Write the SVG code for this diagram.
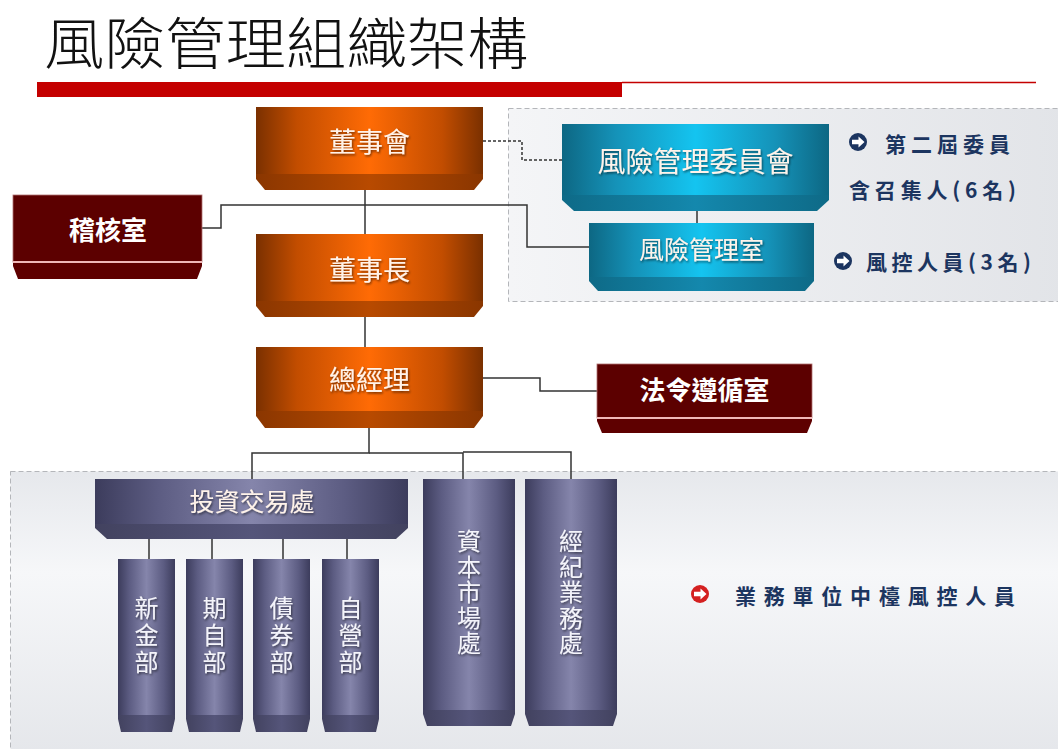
<svg xmlns="http://www.w3.org/2000/svg" width="1058" height="749" viewBox="0 0 1058 749">
<defs>
<linearGradient id="gOr" x1="0" y1="0" x2="1" y2="0">
<stop offset="0" stop-color="#7a3000"/><stop offset="0.18" stop-color="#c24d00"/><stop offset="0.5" stop-color="#ff6b05"/><stop offset="0.82" stop-color="#c24d00"/><stop offset="1" stop-color="#7a3000"/>
</linearGradient>
<linearGradient id="gOrB" x1="0" y1="0" x2="1" y2="0">
<stop offset="0" stop-color="#8a3600"/><stop offset="0.5" stop-color="#b84a00"/><stop offset="1" stop-color="#8a3600"/>
</linearGradient>
<linearGradient id="gTe" x1="0" y1="0" x2="1" y2="0">
<stop offset="0" stop-color="#0d6783"/><stop offset="0.2" stop-color="#1592b8"/><stop offset="0.5" stop-color="#14c4f0"/><stop offset="0.8" stop-color="#1592b8"/><stop offset="1" stop-color="#0d6783"/>
</linearGradient>
<linearGradient id="gTeB" x1="0" y1="0" x2="1" y2="0">
<stop offset="0" stop-color="#0e6a87"/><stop offset="0.5" stop-color="#1488ad"/><stop offset="1" stop-color="#0e6a87"/>
</linearGradient>
<linearGradient id="gPu" x1="0" y1="0" x2="1" y2="0">
<stop offset="0" stop-color="#3c3c5c"/><stop offset="0.2" stop-color="#5c5c82"/><stop offset="0.5" stop-color="#8585ab"/><stop offset="0.8" stop-color="#5c5c82"/><stop offset="1" stop-color="#3c3c5c"/>
</linearGradient>
<linearGradient id="gPuB" x1="0" y1="0" x2="1" y2="0">
<stop offset="0" stop-color="#42425f"/><stop offset="0.5" stop-color="#55557a"/><stop offset="1" stop-color="#42425f"/>
</linearGradient>
<linearGradient id="gPanel" x1="0" y1="0" x2="0" y2="1">
<stop offset="0" stop-color="#e6e8ec"/><stop offset="0.35" stop-color="#f6f7f9"/><stop offset="1" stop-color="#e4e6ea"/>
</linearGradient>
<linearGradient id="gPanel2" x1="0" y1="0" x2="1" y2="0">
<stop offset="0" stop-color="#f4f5f7"/><stop offset="1" stop-color="#e2e4e8"/>
</linearGradient>
<filter id="sh" x="-10%" y="-20%" width="120%" height="140%">
<feDropShadow dx="1" dy="1.5" stdDeviation="1" flood-color="#000" flood-opacity="0.55"/>
</filter>
<g id="arrowIcon">
<circle cx="0" cy="0" r="9"/>
<path d="M-6,-2.2 H0.5 V-5.5 L6.5,0 L0.5,5.5 V2.2 H-6 Z" fill="#fff"/>
</g>
</defs>
<style>
.title{font-family:"Noto Sans CJK TC","Noto Sans CJK SC",sans-serif;font-size:56px;font-weight:300;fill:#111}
.nt{font-family:"Noto Sans CJK TC","Noto Sans CJK SC",sans-serif;fill:#fff3ea;text-anchor:middle;filter:url(#sh)}
.vt{font-family:"Noto Sans CJK TC","Noto Sans CJK SC",sans-serif;fill:#f4f4fa;text-anchor:middle;filter:url(#sh);writing-mode:vertical-rl;font-size:24px}
.nt2{font-family:"Noto Sans CJK TC","Noto Sans CJK SC",sans-serif;fill:#fff;text-anchor:middle;font-weight:bold}
.note{font-family:"Noto Sans CJK TC","Noto Sans CJK SC",serif;font-weight:bold;fill:#1c3560;font-size:21px}
.conn{fill:none;stroke:#333;stroke-width:1.5}
.dash{fill:none;stroke:#333;stroke-width:1.5;stroke-dasharray:3 2}
.panel{stroke:#b4b6ba;stroke-width:1;stroke-dasharray:5 3}
.dr{fill:#5c0000}
.drb{fill:#5e0000}
</style>

<rect width="1058" height="749" fill="#fff"/>

<!-- title -->
<text class="title" x="44" y="64" textLength="484" lengthAdjust="spacingAndGlyphs">風險管理組織架構</text>
<rect x="37" y="82" width="585" height="15" fill="#c40000"/>
<line x1="622" y1="82.5" x2="1036" y2="82.5" stroke="#c40000" stroke-width="1.5"/>

<!-- panels -->
<rect class="panel" x="508.5" y="108.5" width="560" height="193" fill="url(#gPanel2)"/>
<rect class="panel" x="10.5" y="471.5" width="1060" height="290" fill="url(#gPanel)"/>

<!-- connectors -->
<g id="connectors">
<path class="dash" d="M483,141 H522 V160 H562"/>
<path class="conn" d="M365,190 V234"/>
<path class="conn" d="M202,228 H221 V205 H527 V247 H589"/>
<path class="conn" d="M697,211 V223"/>
<path class="conn" d="M365,317 V347"/>
<path class="conn" d="M483,378 H540 V391 H597"/>
<path class="conn" d="M369,428 V453 H252 V479"/>
<path class="conn" d="M369,453 H463 V479"/>
<path class="conn" d="M463,452 H571 V479"/>
<path class="conn" d="M149,539 V559 M212,539 V559 M283,539 V559 M347,539 V559"/>
</g>

<!-- 董事會 -->
<g id="n-board">
<rect x="256" y="107" width="227" height="68" fill="url(#gOr)"/>
<path d="M256,174 H483 V179 L474,190 H265 L256,179 Z" fill="url(#gOrB)"/>
<text class="nt" x="369.5" y="152" font-size="27">董事會</text>
</g>

<!-- 稽核室 -->
<g id="n-audit">
<rect x="13" y="195" width="189" height="67" class="dr" stroke="#b07070" stroke-width="0.8"/>
<line x1="13" y1="262" x2="202" y2="262" stroke="#f0b8b8" stroke-width="2"/>
<path d="M13,263 H202 V266 L197,279 H18 L13,266 Z" class="drb"/>
<text class="nt2" x="108" y="240" font-size="26">稽核室</text>
</g>

<!-- 董事長 -->
<g id="n-chair">
<rect x="256" y="234" width="227" height="68" fill="url(#gOr)"/>
<path d="M256,301 H483 V306 L474,317 H265 L256,306 Z" fill="url(#gOrB)"/>
<text class="nt" x="369.5" y="280" font-size="27">董事長</text>
</g>

<!-- 總經理 -->
<g id="n-gm">
<rect x="256" y="347" width="227" height="65" fill="url(#gOr)"/>
<path d="M256,411 H483 V416 L474,428 H265 L256,416 Z" fill="url(#gOrB)"/>
<text class="nt" x="369.5" y="390" font-size="27">總經理</text>
</g>

<!-- 法令遵循室 -->
<g id="n-compliance">
<rect x="597" y="364" width="215" height="54" class="dr" stroke="#b07070" stroke-width="0.8"/>
<line x1="597" y1="418" x2="812" y2="418" stroke="#f0b8b8" stroke-width="2"/>
<path d="M597,419 H812 V421 L807,433 H602 L597,421 Z" class="drb"/>
<text class="nt2" x="704.5" y="400" font-size="26">法令遵循室</text>
</g>

<!-- 風險管理委員會 -->
<g id="n-rmc">
<rect x="562" y="124" width="267" height="72" fill="url(#gTe)"/>
<path d="M562,195 H829 V200 L817,211 H574 L562,200 Z" fill="url(#gTeB)"/>
<text class="nt" x="695.5" y="172" font-size="28" fill="#f2fbff">風險管理委員會</text>
</g>

<!-- 風險管理室 -->
<g id="n-rmo">
<rect x="589" y="223" width="225" height="55" fill="url(#gTe)"/>
<path d="M589,277 H814 V281 L805,291 H598 L589,281 Z" fill="url(#gTeB)"/>
<text class="nt" x="701.5" y="259" font-size="25">風險管理室</text>
</g>

<!-- notes top right -->
<g id="notes-top">
<use href="#arrowIcon" x="858" y="142" fill="#1c3560"/>
<text class="note" x="885" y="152" textLength="125" lengthAdjust="spacing">第二屆委員</text>
<text class="note" x="849" y="198" textLength="167" lengthAdjust="spacing">含召集人(6名)</text>
<use href="#arrowIcon" x="843" y="261" fill="#1c3560"/>
<text class="note" x="866" y="270" textLength="165" lengthAdjust="spacing">風控人員(3名)</text>
</g>

<!-- 投資交易處 -->
<g id="n-invest">
<rect x="95" y="479" width="313" height="46" fill="url(#gPu)"/>
<path d="M95,524 H408 V528 L396,539 H107 L95,528 Z" fill="url(#gPuB)"/>
<text class="nt" x="252" y="511" font-size="25" fill="#f4f4fa">投資交易處</text>
</g>

<!-- sub units -->
<g id="n-newfin">
<rect x="118" y="559" width="57" height="157" fill="url(#gPu)"/>
<path d="M118,715 H175 V719 L172,732 H121 L118,719 Z" fill="url(#gPuB)"/>
<text class="vt" x="146.5" y="636" letter-spacing="3">新金部</text>
</g>
<g id="n-futures">
<rect x="186" y="559" width="57" height="157" fill="url(#gPu)"/>
<path d="M186,715 H243 V719 L240,732 H189 L186,719 Z" fill="url(#gPuB)"/>
<text class="vt" x="214.5" y="636" letter-spacing="3">期自部</text>
</g>
<g id="n-bond">
<rect x="253" y="559" width="57" height="157" fill="url(#gPu)"/>
<path d="M253,715 H310 V719 L307,732 H256 L253,719 Z" fill="url(#gPuB)"/>
<text class="vt" x="281.5" y="636" letter-spacing="3">債券部</text>
</g>
<g id="n-prop">
<rect x="322" y="559" width="57" height="157" fill="url(#gPu)"/>
<path d="M322,715 H379 V719 L376,732 H325 L322,719 Z" fill="url(#gPuB)"/>
<text class="vt" x="350.5" y="636" letter-spacing="3">自營部</text>
</g>

<!-- 資本市場處 -->
<g id="n-capital">
<rect x="423" y="479" width="92" height="232" fill="url(#gPu)"/>
<path d="M423,710 H515 V714 L511,726 H427 L423,714 Z" fill="url(#gPuB)"/>
<text class="vt" x="469" y="593" letter-spacing="1.5">資本市場處</text>
</g>

<!-- 經紀業務處 -->
<g id="n-brokerage">
<rect x="525" y="479" width="92" height="232" fill="url(#gPu)"/>
<path d="M525,710 H617 V714 L613,726 H529 L525,714 Z" fill="url(#gPuB)"/>
<text class="vt" x="571" y="593" letter-spacing="1.5">經紀業務處</text>
</g>

<!-- note bottom -->
<g id="notes-bottom">
<use href="#arrowIcon" x="700" y="594" fill="#d42020"/>
<text class="note" x="735" y="604" font-size="24" textLength="280" lengthAdjust="spacing">業務單位中檯風控人員</text>
</g>
</svg>
